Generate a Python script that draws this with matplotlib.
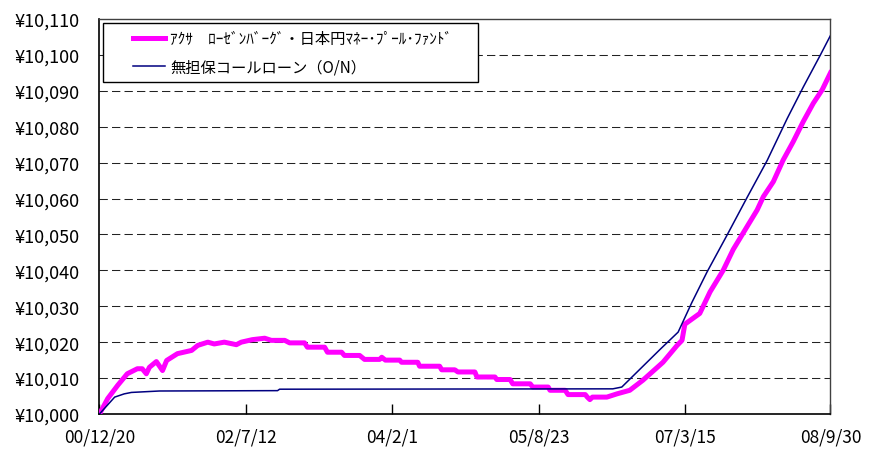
import pandas as pd
import matplotlib.pyplot as plt
from matplotlib.patches import Rectangle
from matplotlib.ticker import FuncFormatter

plt.rcParams['font.family'] = ['Noto Sans CJK JP', 'DejaVu Sans']

# ファンド基準価額 (読み取り値)
fund_dates = [
    "2000-12-20", "2001-01-21", "2001-03-01", "2001-04-07", "2001-05-16",
    "2001-06-04", "2001-06-20", "2001-07-02", "2001-07-29", "2001-08-22",
    "2001-09-07", "2001-10-19", "2001-12-13", "2002-01-06", "2002-02-14",
    "2002-03-11", "2002-04-19", "2002-06-05", "2002-06-24", "2002-08-06",
    "2002-09-23", "2002-10-19", "2002-12-10", "2002-12-29", "2003-02-25",
    "2003-03-08", "2003-05-14", "2003-05-25", "2003-07-19", "2003-07-30",
    "2003-09-27", "2003-10-16", "2003-12-14", "2003-12-22", "2004-01-05",
    "2004-03-01", "2004-03-08", "2004-05-10", "2004-05-17", "2004-08-03",
    "2004-08-11", "2004-10-01", "2004-10-13", "2004-12-18", "2004-12-26",
    "2005-03-06", "2005-03-13", "2005-05-04", "2005-05-14", "2005-07-21",
    "2005-07-31", "2005-09-29", "2005-10-06", "2005-12-04", "2005-12-15",
    "2006-02-20", "2006-02-28", "2006-03-10", "2006-03-20", "2006-05-15",
    "2006-06-23", "2006-08-12", "2006-10-02", "2006-12-19", "2007-02-12",
    "2007-03-03", "2007-03-14", "2007-05-11", "2007-06-20", "2007-08-10",
    "2007-09-18", "2007-11-11", "2007-12-20", "2008-01-13", "2008-02-21",
    "2008-03-30", "2008-05-08", "2008-06-16", "2008-07-25", "2008-08-29",
    "2008-09-30",
]
fund_values = [
    10000.0, 10004.3, 10008.0, 10011.2, 10012.6,
    10012.6, 10011.2, 10013.0, 10014.6, 10012.1,
    10014.9, 10016.8, 10017.7, 10019.1, 10020.0,
    10019.5, 10020.0, 10019.3, 10020.0, 10020.7,
    10021.1, 10020.5, 10020.5, 10019.8, 10019.8,
    10018.6, 10018.6, 10017.2, 10017.2, 10016.3,
    10016.3, 10015.2, 10015.2, 10015.8, 10015.0,
    10015.0, 10014.4, 10014.4, 10013.3, 10013.3,
    10012.3, 10012.3, 10011.7, 10011.7, 10010.3,
    10010.3, 10009.6, 10009.6, 10008.4, 10008.4,
    10007.5, 10007.5, 10006.6, 10006.6, 10005.4,
    10005.4, 10004.7, 10004.0, 10004.7, 10004.7,
    10005.6, 10006.6, 10009.4, 10014.4, 10019.1,
    10020.5, 10025.0, 10028.0, 10034.0, 10040.0,
    10045.8, 10052.2, 10056.8, 10060.5, 10064.7,
    10070.7, 10075.8, 10081.4, 10086.5, 10090.3,
    10095.0,
]

# 無担保コールローン (O/N)
call_dates = [
    "2000-12-20", "2001-02-17", "2001-03-26", "2001-04-23", "2001-08-10",
    "2002-11-12", "2002-11-20", "2006-06-07", "2006-07-12", "2006-12-08",
    "2007-02-16", "2007-04-10", "2007-06-08", "2007-08-25", "2007-11-11",
    "2008-01-28", "2008-04-15", "2008-06-16", "2008-08-22", "2008-09-30",
]
call_values = [
    10000.0, 10004.7, 10005.6, 10006.0, 10006.4,
    10006.5, 10006.9, 10007.0, 10007.5, 10018.0,
    10022.8, 10031.0, 10039.5, 10049.8, 10060.3,
    10070.6, 10082.3, 10091.0, 10100.0, 10105.4,
]

tick_dates = ["2000-12-20", "2002-07-12", "2004-02-01", "2005-08-23", "2007-03-15", "2008-09-30"]
tick_labels = ["00/12/20", "02/7/12", "04/2/1", "05/8/23", "07/3/15", "08/9/30"]

fund_x = pd.to_datetime(fund_dates)
call_x = pd.to_datetime(call_dates)
ticks_x = pd.to_datetime(tick_dates)

fig = plt.figure(figsize=(8.75, 4.52), dpi=100)
ax = fig.add_axes([0.1137, 0.0819, 0.9491 - 0.1137, 0.9558 - 0.0819])

ax.plot(fund_x, fund_values, color="#ff00ff", lw=3.6,
        label="ｱｸｻ　ﾛｰｾﾞﾝﾊﾞｰｸﾞ・日本円ﾏﾈｰ･ﾌﾟｰﾙ･ﾌｧﾝﾄﾞ", zorder=3)
ax.plot(call_x, call_values, color="#000080", lw=1.1,
        label="無担保コールローン（O/N）", zorder=4)

ax.set_xlim(ticks_x[0], ticks_x[-1])
ax.set_ylim(10000, 10110)
ax.set_yticks(range(10000, 10111, 10))
ax.yaxis.set_major_formatter(FuncFormatter(lambda v, p: "¥{:,.0f}".format(v)))
ax.set_xticks(ticks_x)
ax.set_xticklabels(tick_labels)

for v in range(10010, 10110, 10):
    ax.axhline(v, color="#222222", lw=0.75, ls=(0, (8, 4)), zorder=1)

ax.tick_params(axis="y", direction="in", length=0, pad=14, labelsize=13)
ax.tick_params(axis="x", direction="in", length=7, width=1, pad=10, labelsize=12.5)

for s in ["left", "bottom"]:
    ax.spines[s].set_color("black")
    ax.spines[s].set_linewidth(1.2)
for s in ["top", "right"]:
    ax.spines[s].set_color("#404040")
    ax.spines[s].set_linewidth(1.0)

# 凡例の枠 (Excel風に左右の余白を広く)
box = Rectangle((0.0048, 0.8405), 0.513, 0.1494, transform=ax.transAxes,
                facecolor="white", edgecolor="black", lw=1.0, zorder=5)
ax.add_patch(box)
leg = ax.legend(loc="upper left", bbox_to_anchor=(0.0458, 0.972), fontsize=11,
                frameon=False, borderpad=0, handlelength=2.1,
                handletextpad=0.35, labelspacing=0.75, borderaxespad=0)
leg.set_zorder(6)

fig.savefig("out.png", dpi=100)
